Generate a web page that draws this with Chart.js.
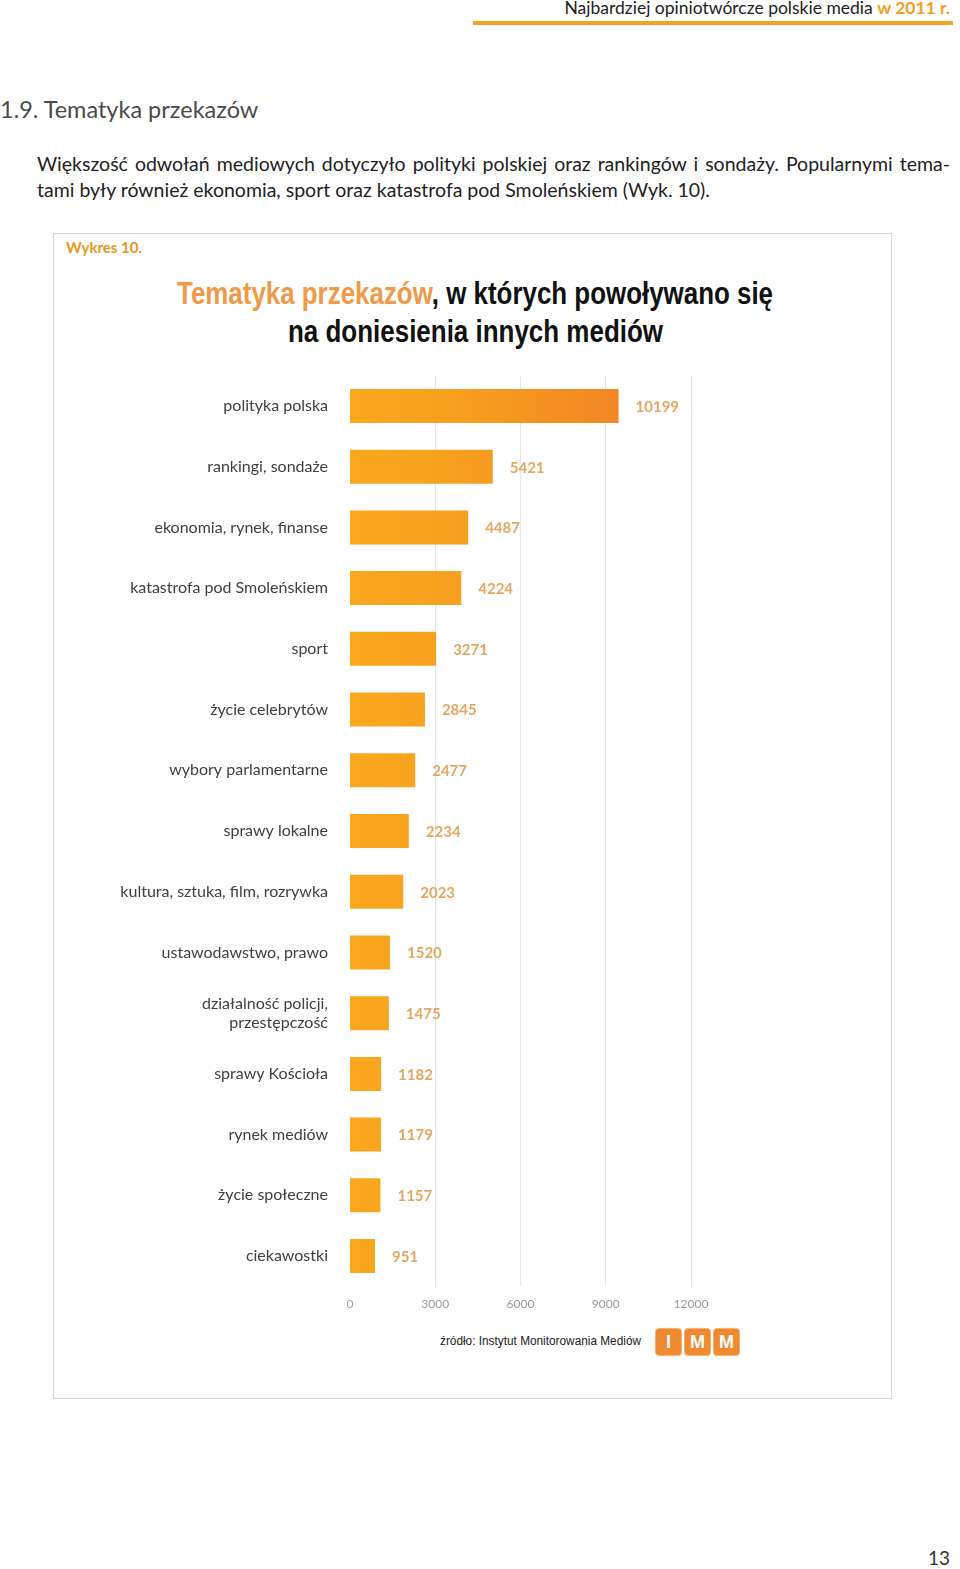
<!DOCTYPE html>
<html lang="pl">
<head>
<meta charset="utf-8">
<script src="https://cdn.jsdelivr.net/npm/chart.js@4/dist/chart.umd.min.js"></script>
<style>
  html, body { margin: 0; padding: 0; background: #fff; }
  body { width: 960px; height: 1569px; position: relative; overflow: hidden; font-family: Lato, sans-serif; color: #222; }
  .hdr { position: absolute; right: 10px; top: -3px; font-size: 17.5px; color: #222; white-space: nowrap; }
  .hdr b { color: #F0A020; }
  .hdr-line { position: absolute; left: 473px; top: 21px; width: 480px; height: 4px; background: #F5A21E; }
  .sec { position: absolute; left: 0; top: 95px; font-size: 23.5px; color: #4a4a4a; }
  .para { position: absolute; left: 37px; top: 151px; width: 913px; font-size: 19.5px; line-height: 26px; color: #222; }
  .para .l1 { text-align: justify; text-align-last: justify; white-space: nowrap; }
  .box { position: absolute; left: 53px; top: 233px; width: 837px; height: 1164px; border: 1px solid #d4d4d4; }
  .wyk { position: absolute; left: 66px; top: 238px; font-size: 15px; font-weight: 700; color: #E8961E; }
  .fit { position: absolute; white-space: nowrap; transform-origin: 0 0; }
  .title { font-family: "Liberation Sans", Arial, sans-serif; font-weight: 700; font-size: 32px; line-height: 38px; color: #111; }
  .title span { color: #F09A48; }
  .wrap { position: absolute; left: 100px; top: 344px; width: 700px; height: 974px; }
  .src { font-family: "Liberation Sans", sans-serif; font-size: 13px; line-height: 16px; color: #222; }
  .logo { position: absolute; top: 1328px; width: 25px; height: 26px; background: #F08A30; border: 1px solid #F7B070; border-radius: 4px; color: #fff; font-family: "Liberation Sans", sans-serif; font-weight: 700; font-size: 18px; text-align: center; line-height: 26px; }
  .pg { position: absolute; right: 10px; top: 1546px; font-size: 19px; color: #333; }
</style>
</head>
<body>
<div class="hdr">Najbardziej opiniotwórcze polskie media <b>w 2011 r.</b></div>
<div class="hdr-line"></div>
<div class="sec">1.9. Tematyka przekazów</div>
<div class="para">
  <div class="l1">Większość odwołań mediowych dotyczyło polityki polskiej oraz rankingów i sondaży. Popularnymi tema-</div>
  <div>tami były również ekonomia, sport oraz katastrofa pod Smoleńskiem (Wyk. 10).</div>
</div>
<div class="box"></div>
<div class="wyk">Wykres 10.</div>
<div class="fit title" data-x="177" data-y="274" data-w="596"><span>Tematyka przekazów</span>, w których powoływano się</div>
<div class="fit title" data-x="288" data-y="312" data-w="375">na doniesienia innych mediów</div>
<div class="wrap"><canvas id="c-topics"></canvas></div>
<div class="fit src" data-x="440" data-y="1333" data-w="201">źródło: Instytut Monitorowania Mediów</div>
<div class="logo" style="left:655px">I</div>
<div class="logo" style="left:684px">M</div>
<div class="logo" style="left:713px">M</div>
<div class="pg">13</div>

<script>
// === DATA ===
const topics = [
    'polityka polska',
    'rankingi, sondaże',
    'ekonomia, rynek, finanse',
    'katastrofa pod Smoleńskiem',
    'sport',
    'życie celebrytów',
    'wybory parlamentarne',
    'sprawy lokalne',
    'kultura, sztuka, film, rozrywka',
    'ustawodawstwo, prawo',
    ['działalność policji,', 'przestępczość'],
    'sprawy Kościoła',
    'rynek mediów',
    'życie społeczne',
    'ciekawostki'
];
const counts = [10199, 5421, 4487, 4224, 3271, 2845, 2477, 2234, 2023, 1520, 1475, 1182, 1179, 1157, 951];
const xTicks = [0, 3000, 6000, 9000, 12000];
// the bars in the original are drawn a bit shorter than its printed axis
const barMax = 12950;

// === CONDENSED TEXT (no narrow font installed) ===
document.querySelectorAll('.fit').forEach(el => {
    el.style.left = el.dataset.x + 'px';
    el.style.top = el.dataset.y + 'px';
    const w = el.getBoundingClientRect().width;
    el.style.transform = 'scaleX(' + (el.dataset.w / w) + ')';
});

// === VALUE LABELS ===
const valueLabels = {
    id: 'valueLabels',
    afterDatasetsDraw(chart) {
        const ctx = chart.ctx;
        const meta = chart.getDatasetMeta(0);
        ctx.save();
        ctx.font = 'bold 15px Lato';
        ctx.fillStyle = '#E4A763';
        ctx.textBaseline = 'middle';
        ctx.textAlign = 'left';
        meta.data.forEach((bar, i) => {
            ctx.fillText(String(counts[i]), bar.x + 17, bar.y + 1);
        });
        ctx.restore();
    }
};

function barGradient(context) {
    const { chart } = context;
    const area = chart.chartArea;
    if (!area) return '#F7A21F';
    const g = chart.ctx.createLinearGradient(area.left, 0, area.right, 0);
    g.addColorStop(0, '#F9A81E');
    g.addColorStop(0.3, '#F8A01F');
    g.addColorStop(1, '#EE7B25');
    return g;
}

// === CHART ===
new Chart(document.getElementById('c-topics'), {
    type: 'bar',
    data: {
        labels: topics,
        datasets: [{
            data: counts,
            xAxisID: 'x',
            backgroundColor: barGradient,
            categoryPercentage: 0.56,
            barPercentage: 1,
            borderWidth: 0
        }]
    },
    options: {
        indexAxis: 'y',
        responsive: true,
        maintainAspectRatio: false,
        animation: false,
        layout: { padding: { top: 15, right: 109, bottom: 0, left: 0 } },
        plugins: { legend: { display: false }, tooltip: { enabled: false } },
        scales: {
            x: {
                min: 0, max: barMax,
                display: false
            },
            xAxis: {
                type: 'linear',
                axis: 'x',
                position: 'bottom',
                min: 0, max: 12000,
                afterBuildTicks: s => { s.ticks = xTicks.map(v => ({ value: v })); },
                afterFit: s => { s.height = 30; },
                ticks: { color: '#999', font: { family: 'Lato', size: 12 }, padding: 11, callback: v => String(v) },
                grid: {
                    drawTicks: false,
                    color: ctx => ctx.tick && ctx.tick.value === 0 ? 'rgba(0,0,0,0)' : '#e4e4e4'
                },
                border: { display: false }
            },
            y: {
                afterFit: s => { s.width = 250; },
                ticks: { color: '#404040', font: { family: 'Lato', size: 16 }, padding: 22 },
                grid: { display: false, drawTicks: false },
                border: { display: false }
            }
        }
    },
    plugins: [valueLabels]
});
</script>
</body>
</html>
